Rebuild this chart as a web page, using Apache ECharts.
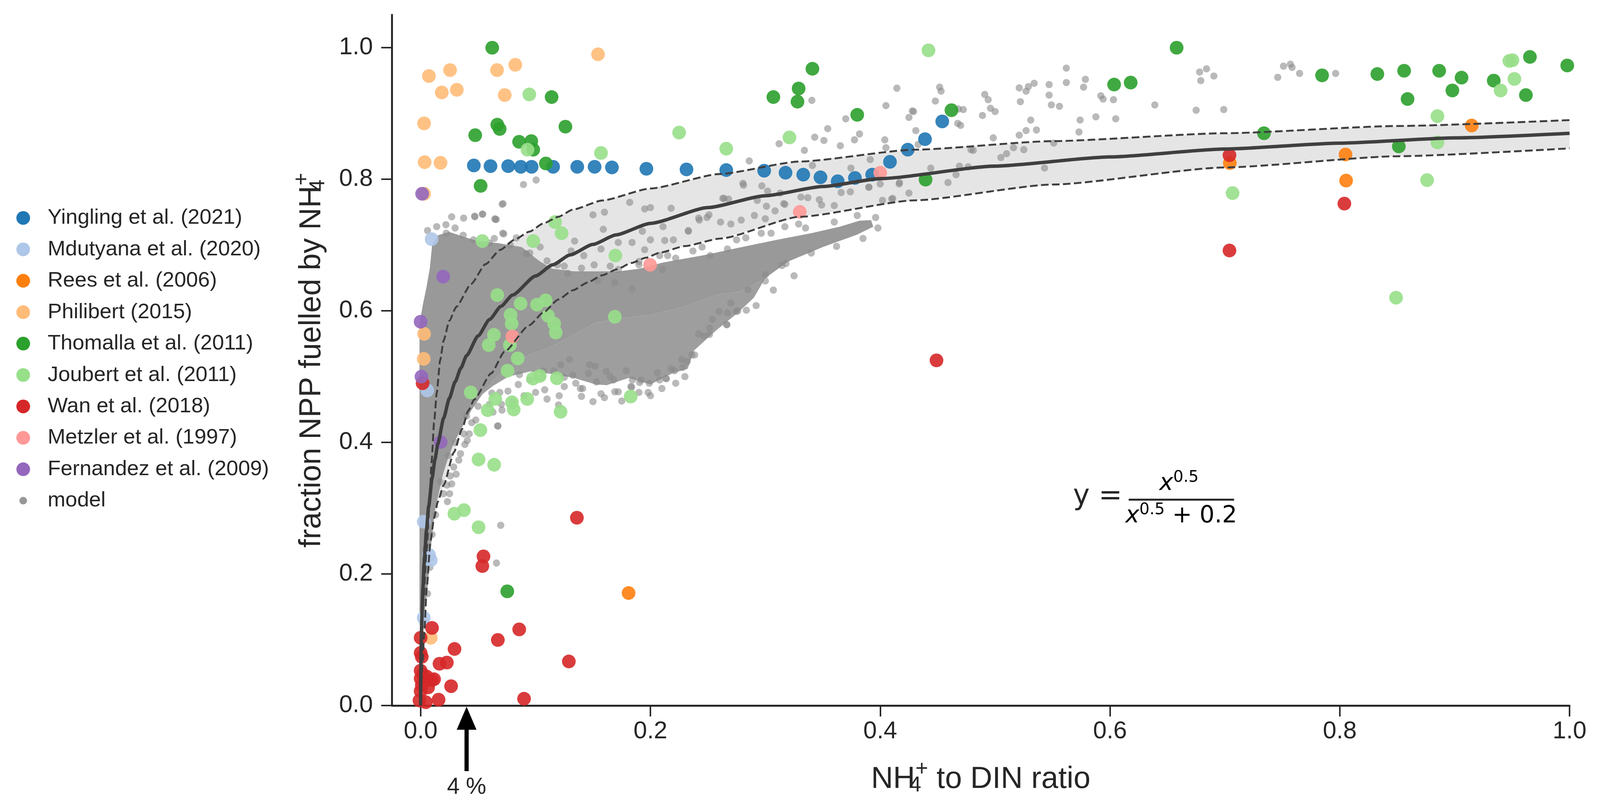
<!DOCTYPE html>
<html>
<head>
<meta charset="utf-8">
<title>fraction NPP fuelled by NH4+</title>
<script src="https://cdn.jsdelivr.net/npm/echarts@6/dist/echarts.min.js"></script>
<style>
  html, body { margin: 0; padding: 0; background: #fff; overflow: hidden; }
  #chart { width: 100vw; height: 100vh; }
</style>
</head>
<body>
<div id="chart"></div>
<script>
// axis ticks
const xTicks = [0, 0.2, 0.4, 0.6, 0.8, 1.0];
const yTicks = [0, 0.2, 0.4, 0.6, 0.8, 1.0];

// observations, [NH4+/DIN ratio, fraction NPP]
const yingling = [[0.0463,0.821],[0.0608,0.820],[0.0762,0.820],[0.0872,0.819],[0.0966,0.819],[0.1153,0.819],[0.1363,0.819],[0.1514,0.819],[0.1665,0.818],[0.1965,0.816],[0.2314,0.815],[0.266,0.814],[0.299,0.813],[0.3176,0.810],[0.333,0.807],[0.348,0.803],[0.363,0.797],[0.378,0.802],[0.393,0.807],[0.4085,0.8265],[0.424,0.845],[0.439,0.861],[0.454,0.888]];
const mdutyana = [[0.0096,0.709],[0.0058,0.479],[0.0027,0.2795],[0.0073,0.229],[0.0088,0.221],[0.0027,0.1335]];
const rees = [[0.181,0.171],[0.7043,0.8247],[0.805,0.8377],[0.8055,0.798],[0.9148,0.8817]];
const philibert = [[0.0072,0.957],[0.0256,0.966],[0.0184,0.932],[0.0315,0.936],[0.0665,0.966],[0.0824,0.974],[0.0732,0.928],[0.1544,0.990],[0.003,0.885],[0.0035,0.826],[0.0173,0.825],[0.003,0.778],[0.003,0.565],[0.0027,0.527],[0.0088,0.103]];
const thomalla = [[0.0623,1.0],[0.114,0.925],[0.0667,0.883],[0.0688,0.8765],[0.0475,0.867],[0.126,0.880],[0.0857,0.857],[0.0963,0.858],[0.098,0.845],[0.109,0.824],[0.0522,0.790],[0.341,0.968],[0.329,0.938],[0.307,0.925],[0.328,0.918],[0.380,0.898],[0.0754,0.1736],[0.4395,0.7995],[0.462,0.905],[0.6036,0.944],[0.618,0.947],[0.658,1.0],[0.734,0.870],[0.7846,0.958],[0.8327,0.960],[0.856,0.965],[0.859,0.922],[0.8865,0.965],[0.906,0.9545],[0.898,0.935],[0.934,0.950],[0.9655,0.986],[0.962,0.928],[0.998,0.973],[0.8514,0.850]];
const joubert = [[0.0946,0.929],[0.225,0.871],[0.321,0.8636],[0.266,0.8465],[0.157,0.840],[0.093,0.845],[0.0537,0.706],[0.098,0.706],[0.117,0.735],[0.1227,0.718],[0.1695,0.684],[0.169,0.591],[0.0667,0.624],[0.087,0.611],[0.1013,0.6094],[0.1088,0.616],[0.0783,0.594],[0.0792,0.5805],[0.1109,0.5925],[0.1162,0.5805],[0.1176,0.567],[0.0638,0.5635],[0.0593,0.548],[0.0777,0.548],[0.0845,0.5277],[0.0756,0.509],[0.0978,0.497],[0.1037,0.501],[0.1186,0.4975],[0.1828,0.4698],[0.0436,0.476],[0.065,0.466],[0.0795,0.461],[0.081,0.450],[0.0584,0.449],[0.0928,0.466],[0.1218,0.4466],[0.052,0.4187],[0.0504,0.374],[0.064,0.366],[0.0294,0.2916],[0.0377,0.297],[0.0504,0.271],[0.442,0.996],[0.7067,0.779],[0.885,0.896],[0.885,0.856],[0.876,0.7987],[0.849,0.620],[0.9476,0.980],[0.9503,0.981],[0.952,0.9525],[0.940,0.935]];
const wan = [[0.0017,0.490],[0.136,0.2855],[0.0547,0.2267],[0.0537,0.212],[0.0099,0.118],[0.0858,0.1157],[0.0672,0.0997],[0.0295,0.086],[0.0164,0.0635],[0.0228,0.0653],[0.129,0.067],[0.0265,0.0294],[0.090,0.0103],[0.0156,0.0089],[0.0,0.103],[0.0,0.08],[0.001,0.074],[0.0,0.053],[0.002,0.047],[0.0,0.041],[0.0053,0.044],[0.0096,0.0386],[0.0117,0.040],[0.001,0.031],[0.0065,0.0276],[0.0,0.022],[-0.001,0.0077],[0.0045,0.005],[0.449,0.5247],[0.704,0.8366],[0.704,0.6917],[0.804,0.763]];
const metzler = [[0.400,0.810],[0.330,0.7505],[0.1997,0.670],[0.0798,0.561]];
const fernandez = [[0.0013,0.778],[0.0196,0.652],[0.0,0.5835],[0.0007,0.500],[0.0174,0.4006]];

// model output: outline of the dense cloud, its looser lower lobe, and the scattered points
const modelCore = [[-0.001,0.14],[-0.001,0.58],[0.002,0.61],[0.005,0.635],[0.008,0.665],[0.01,0.7],[0.015,0.715],[0.025,0.72],[0.0385,0.712],[0.05,0.706],[0.067,0.703],[0.088,0.697],[0.1031,0.676],[0.1145,0.664],[0.1335,0.66],[0.172,0.66],[0.1906,0.664],[0.2096,0.673],[0.2286,0.679],[0.2476,0.685],[0.2796,0.697],[0.31,0.708],[0.34,0.718],[0.365,0.728],[0.382,0.737],[0.392,0.738],[0.394,0.728],[0.38,0.716],[0.35,0.697],[0.32,0.675],[0.3,0.65],[0.2796,0.63],[0.257,0.624],[0.2286,0.606],[0.2,0.594],[0.172,0.588],[0.1525,0.582],[0.1335,0.564],[0.1145,0.546],[0.0955,0.534],[0.0765,0.515],[0.063,0.494],[0.0537,0.473],[0.0442,0.449],[0.0366,0.425],[0.029,0.4],[0.0233,0.373],[0.0195,0.352],[0.0157,0.322],[0.0128,0.301],[0.01,0.26],[0.008,0.22],[0.006,0.18],[0.0045,0.155],[0.003,0.14]];
const modelLobe = [[0.3,0.65],[0.29,0.62],[0.276,0.597],[0.257,0.57],[0.2381,0.54],[0.2324,0.512],[0.219,0.505],[0.2,0.488],[0.181,0.498],[0.162,0.487],[0.1525,0.488],[0.1335,0.498],[0.1145,0.504],[0.0955,0.508],[0.0765,0.5],[0.063,0.486],[0.0537,0.473],[0.063,0.494],[0.0765,0.515],[0.0955,0.534],[0.1145,0.546],[0.1335,0.564],[0.1525,0.582],[0.172,0.588],[0.2,0.594],[0.2286,0.606],[0.257,0.624],[0.2796,0.63]];
const modelPts = [[0.4145,0.9385],[0.405,0.912],[0.3405,0.92],[0.37,0.892],[0.382,0.869],[0.3543,0.877],[0.343,0.864],[0.351,0.859],[0.3776,0.86],[0.3653,0.851],[0.312,0.854],[0.404,0.86],[0.405,0.848],[0.3913,0.83],[0.3745,0.817],[0.341,0.821],[0.334,0.844],[0.286,0.828],[0.425,0.894],[0.428,0.904],[0.1005,0.799],[0.0895,0.792],[0.071,0.762],[0.0374,0.741],[0.0472,0.743],[0.0537,0.747],[0.0646,0.74],[0.281,0.791],[0.297,0.79],[0.264,0.771],[0.268,0.77],[0.302,0.782],[0.313,0.779],[0.293,0.768],[0.301,0.759],[0.317,0.762],[0.337,0.772],[0.347,0.769],[0.36,0.76],[0.374,0.781],[0.39,0.788],[0.4,0.793],[0.4165,0.793],[0.41,0.77],[0.425,0.779],[0.182,0.765],[0.195,0.755],[0.2,0.757],[0.218,0.756],[0.16,0.75],[0.15,0.746],[0.329,0.732],[0.3085,0.752],[0.317,0.728],[0.3,0.74],[0.2905,0.745],[0.279,0.738],[0.27,0.732],[0.2492,0.742],[0.2426,0.738],[0.261,0.735],[0.233,0.721],[0.211,0.728],[0.193,0.721],[0.184,0.704],[0.2,0.708],[0.22,0.708],[0.237,0.691],[0.252,0.684],[0.267,0.694],[0.283,0.711],[0.2965,0.718],[0.172,0.704],[0.157,0.694],[0.142,0.684],[0.134,0.706],[0.131,0.691],[0.151,0.67],[0.172,0.663],[0.19,0.67],[0.208,0.684],[0.222,0.68],[0.169,0.643],[0.154,0.646],[0.184,0.633],[0.2105,0.663],[0.027,0.743],[0.0715,0.718],[0.0833,0.711],[0.092,0.687],[0.104,0.697],[0.119,0.67],[0.128,0.657],
  [0.4517,0.94],[0.453,0.934],[0.448,0.919],[0.429,0.903],[0.468,0.907],[0.4723,0.906],[0.4675,0.885],[0.47,0.882],[0.431,0.874],[0.433,0.853],[0.479,0.845],[0.481,0.844],[0.491,0.929],[0.494,0.921],[0.496,0.908],[0.5,0.903],[0.489,0.897],[0.521,0.939],[0.527,0.934],[0.529,0.941],[0.534,0.946],[0.522,0.918],[0.531,0.89],[0.527,0.874],[0.536,0.875],[0.521,0.867],[0.4984,0.863],[0.516,0.848],[0.525,0.845],[0.51,0.839],[0.505,0.833],[0.547,0.944],[0.547,0.928],[0.549,0.913],[0.556,0.911],[0.562,0.969],[0.562,0.947],[0.5786,0.952],[0.577,0.94],[0.592,0.927],[0.594,0.922],[0.603,0.921],[0.5877,0.895],[0.605,0.892],[0.574,0.89],[0.573,0.872],[0.543,0.817],[0.551,0.855],[0.639,0.913],[0.675,0.905],[0.678,0.963],[0.684,0.968],[0.679,0.95],[0.6904,0.957],[0.746,0.955],[0.751,0.972],[0.757,0.975],[0.7585,0.97],[0.765,0.961],[0.7964,0.961],[0.466,0.807],[0.459,0.795],[0.444,0.817],[0.4766,0.819],[0.469,0.82],[0.699,0.906],
  [0.292,0.608],[0.2835,0.601],[0.2747,0.599],[0.2672,0.597],[0.2663,0.579],[0.2598,0.599],[0.254,0.587],[0.2515,0.574],[0.2465,0.562],[0.242,0.565],[0.2385,0.533],[0.232,0.523],[0.228,0.514],[0.2272,0.526],[0.218,0.512],[0.214,0.497],[0.208,0.495],[0.199,0.49],[0.192,0.495],[0.1843,0.495],[0.1837,0.484],[0.169,0.477],[0.168,0.495],[0.1615,0.508],[0.157,0.474],[0.153,0.492],[0.152,0.516],[0.146,0.505],[0.141,0.482],[0.1325,0.502],[0.1295,0.526],[0.1206,0.471],[0.125,0.499],[0.116,0.509],[0.108,0.48],[0.106,0.499],[0.085,0.488],[0.076,0.478],[0.0703,0.458],[0.0673,0.425],[0.0599,0.458],[0.048,0.434],[0.0445,0.43],[0.0406,0.403],[0.0377,0.413],[0.0347,0.3828],[0.0332,0.373],[0.0288,0.3626],[0.0258,0.349],[0.0229,0.335],[0.0199,0.322],[0.0697,0.274],[0.066,0.2166],[0.325,0.6533],[0.3145,0.669],[0.3,0.6455],[0.307,0.6316],
  [0.139,0.482],[0.172,0.477],[0.179,0.509],[0.1906,0.491],[0.206,0.506],[0.2134,0.497],[0.221,0.509],[0.236,0.533],[0.2514,0.564],[0.2666,0.579],[0.276,0.6],[0.147,0.518],[0.122,0.518],[0.107,0.509],[0.086,0.503],[0.0689,0.476],[0.063,0.446],[0.0708,0.449],[0.067,0.425],[0.0423,0.413],[0.0385,0.397],[0.0309,0.3517],[0.027,0.337],[0.0252,0.322],[0.0233,0.31],
  [0.14,0.47],[0.15,0.462],[0.16,0.468],[0.175,0.463],[0.19,0.476],[0.2,0.471],[0.21,0.482],[0.222,0.49],[0.23,0.5],[0.1,0.476],[0.11,0.466],[0.12,0.457],[0.125,0.485],[0.09,0.471],[0.08,0.462],[0.183,0.485],[0.198,0.476],[0.165,0.5],[0.135,0.49],[0.095,0.495],
  [0.159,0.724],[0.195,0.693],[0.2125,0.707],[0.233,0.722],[0.242,0.741],[0.251,0.746],[0.263,0.771],[0.2805,0.794],[0.316,0.763],[0.331,0.773],[0.349,0.761],[0.366,0.78],[0.3902,0.788],[0.402,0.768],[0.4109,0.771],[0.4168,0.795],[0.0717,0.763],[0.054,0.747],[0.0658,0.739],[0.0723,0.717],[0.0223,0.718],[0.0641,0.71],[0.047,0.744],[0.0651,0.739],
  [0.006,0.722],[0.014,0.728],[0.022,0.731],[0.03,0.726],[0.037,0.715],[0.046,0.708],[0.06,0.703],[0.078,0.7],[0.095,0.688],[0.11,0.676],[0.125,0.668],[0.14,0.665],[0.165,0.668],[0.19,0.675],[0.215,0.684],[0.245,0.697],[0.275,0.708],[0.305,0.718],[0.335,0.726],[0.36,0.735],[0.38,0.745],[0.396,0.742],[0.398,0.726],[0.385,0.71],[0.362,0.698],[0.34,0.688],[0.318,0.672],[0.3,0.655],[0.285,0.632],[0.27,0.612],
  [0.004,0.13],[0.002,0.125],[0.006,0.17],[0.008,0.21],[0.01,0.26],[0.013,0.29],[0.017,0.34],[0.024,0.38],[0.03,0.4],[0.04,0.44],[0.05,0.455],[0.062,0.475]];

// fitted curve and its uncertainty band
const fitCurve = [[0,0],[0.0002,0.058],[0.0005,0.093],[0.001,0.13],[0.002,0.179],[0.003,0.215],[0.004,0.242],[0.005,0.266],[0.007,0.303],[0.01,0.346],[0.0125,0.3745],[0.015,0.398],[0.02,0.437],[0.025,0.467],[0.03,0.492],[0.035,0.513],[0.04,0.532],[0.05,0.562],[0.06,0.587],[0.07,0.607],[0.08,0.624],[0.1,0.653],[0.115,0.67],[0.13,0.685],[0.15,0.701],[0.17,0.7155],[0.2,0.733],[0.25,0.757],[0.3,0.775],[0.35,0.789],[0.4,0.801],[0.5,0.82],[0.6,0.834],[0.7,0.846],[0.8,0.855],[0.9,0.863],[1.0,0.87]];
const bandUpper = [[0,0],[0.001,0.1],[0.0025,0.16],[0.005,0.23],[0.0075,0.3],[0.0095,0.37],[0.0117,0.43],[0.014,0.475],[0.017,0.525],[0.02,0.555],[0.025,0.585],[0.031,0.606],[0.044,0.641],[0.0565,0.671],[0.0692,0.6926],[0.0819,0.7084],[0.0945,0.7203],[0.1072,0.7332],[0.1199,0.743],[0.1326,0.754],[0.158,0.7678],[0.2,0.786],[0.26,0.808],[0.33,0.827],[0.43,0.845],[0.55,0.858],[0.7,0.87],[0.85,0.881],[1.0,0.89]];
const bandLower = [[0,0],[0.0015,0.06],[0.003,0.107],[0.0053,0.178],[0.0086,0.25],[0.0117,0.285],[0.015,0.31],[0.02,0.335],[0.029,0.385],[0.036,0.42],[0.0414,0.448],[0.0466,0.465],[0.0614,0.505],[0.073,0.538],[0.0945,0.578],[0.107,0.5978],[0.1199,0.6174],[0.1326,0.6313],[0.1452,0.643],[0.158,0.654],[0.1706,0.663],[0.1833,0.6727],[0.196,0.6807],[0.2086,0.6886],[0.23,0.6985],[0.261,0.71],[0.33,0.743],[0.43,0.768],[0.55,0.792],[0.7,0.818],[0.85,0.835],[1.0,0.847]];

const arrowX = 0.04;
const eqAnchor = [0.662, 0.313];

const studies = [
  ['Yingling et al. (2021)', '#1f77b4', yingling],
  ['Mdutyana et al. (2020)', '#aec7e8', mdutyana],
  ['Rees et al. (2006)', '#ff7f0e', rees],
  ['Philibert (2015)', '#ffbb78', philibert],
  ['Thomalla et al. (2011)', '#2ca02c', thomalla],
  ['Joubert et al. (2011)', '#98df8a', joubert],
  ['Wan et al. (2018)', '#d62728', wan],
  ['Metzler et al. (1997)', '#ff9896', metzler],
  ['Fernandez et al. (2009)', '#9467bd', fernandez]
];

const ink = '#262626';
const sans = '"Liberation Sans", Arial, sans-serif';
const mathFont = '"DejaVu Sans", sans-serif';

// the layout is measured on a 4205 x 2072 page; scale it to the real viewport
const W = window.innerWidth || 4205;
const H = window.innerHeight || 2072;
const kx = W / 4205, ky = H / 2072, kf = Math.min(kx, ky);

function polygonSeries(name, pts, fill, opacity) {
  return {
    type: 'custom',
    name: name,
    silent: true,
    clip: true,
    data: [[0, 0]],
    renderItem: function (params, api) {
      return {
        type: 'polygon',
        shape: { points: pts.map(p => api.coord(p)) },
        style: { fill: fill, opacity: opacity }
      };
    }
  };
}

const chart = echarts.init(document.getElementById('chart'), null, { width: W, height: H });

const dash = [20 * kf, 9 * kf];
const series = [
  polygonSeries('band', bandUpper.concat(bandLower.slice().reverse()), '#e5e5e5', 1),
  polygonSeries('cloud', modelCore, '#999999', 1),
  polygonSeries('lobe', modelLobe, '#999999', 0.95),
  {
    type: 'scatter', name: 'model', data: modelPts, symbolSize: 19 * kf,
    itemStyle: { color: '#8a8a8a', opacity: 0.6 }, silent: true
  },
  {
    type: 'line', name: 'upper', data: bandUpper, showSymbol: false, silent: true,
    smooth: 0.2, smoothMonotone: 'x',
    lineStyle: { color: '#3f3f3f', width: 5 * kf, type: dash }
  },
  {
    type: 'line', name: 'lower', data: bandLower, showSymbol: false, silent: true,
    smooth: 0.2, smoothMonotone: 'x',
    lineStyle: { color: '#3f3f3f', width: 5 * kf, type: dash }
  },
  {
    type: 'line', name: 'fit', data: fitCurve, showSymbol: false, silent: true,
    smooth: 0.2, smoothMonotone: 'x',
    lineStyle: { color: '#3f3f3f', width: 9 * kf }
  }
];
studies.forEach(s => {
  series.push({
    type: 'scatter', name: s[0], data: s[2], symbolSize: 36 * kf,
    itemStyle: { color: s[1], opacity: 0.9 }
  });
});

const legendData = studies.map(s => ({ name: s[0], itemStyle: { opacity: 1 } }));
legendData.push({ name: 'model', itemStyle: { color: '#979797', opacity: 1, borderColor: '#ffffff', borderWidth: 16 * kf } });

const subRich = {
  a: { fontSize: 80 * kf, fontFamily: sans, color: ink },
  b: { fontSize: 57 * kf, fontFamily: sans, color: ink, padding: [32 * kf, 0, 0, 0], width: 1 },
  c: { fontSize: 57 * kf, fontFamily: sans, color: ink, padding: [0, 0, 52 * kf, 0] }
};

const legendFont = 56 * kf;
const option = {
  animation: false,
  backgroundColor: '#ffffff',
  grid: { left: 1030 * kx, right: 80 * kx, top: 38 * ky, bottom: 265 * ky, containLabel: false, outerBoundsMode: 'none' },
  legend: {
    orient: 'vertical', left: 35 * kx, top: 558 * ky - legendFont / 2, padding: 0,
    itemWidth: 36 * kf, itemHeight: 36 * kf, itemGap: 80 * ky - legendFont,
    icon: 'circle', selectedMode: false,
    textStyle: { fontSize: legendFont, fontFamily: sans, color: ink, lineHeight: 36 * kf, padding: [0, 0, 0, 41 * kx] },
    data: legendData
  },
  xAxis: {
    type: 'value', min: -0.025, max: 1.0,
    name: '{a|NH}{b|4}{c|+}{a| to DIN ratio}',
    nameLocation: 'middle', nameGap: 136 * ky,
    nameTextStyle: { rich: subRich },
    axisLine: { show: true, onZero: false, lineStyle: { color: ink, width: 5 * kf } },
    axisTick: { show: true, length: 28 * ky, customValues: xTicks, lineStyle: { color: ink, width: 4 * kf } },
    axisLabel: { customValues: xTicks, formatter: v => v.toFixed(1), fontSize: 64 * kf, fontFamily: sans, color: ink, margin: 36 * ky },
    splitLine: { show: false }
  },
  yAxis: {
    type: 'value', min: 0, max: 1.05,
    name: '{a|fraction NPP fuelled by NH}{b|4}{c|+}',
    nameLocation: 'middle', nameGap: 155 * kx, nameRotate: 90,
    nameTextStyle: { rich: subRich },
    axisLine: { show: true, onZero: false, lineStyle: { color: ink, width: 5 * kf } },
    axisTick: { show: true, length: 28 * kx, customValues: yTicks, lineStyle: { color: ink, width: 4 * kf } },
    axisLabel: { customValues: yTicks, formatter: v => v.toFixed(1), fontSize: 64 * kf, fontFamily: sans, color: ink, margin: 50 * kx },
    splitLine: { show: false }
  },
  series: series
};

chart.setOption(option);

// annotations placed through the axes
const ar = chart.convertToPixel({ gridIndex: 0 }, [arrowX, 0]);
const eq = chart.convertToPixel({ gridIndex: 0 }, eqAnchor);
const mathRich = {
  i: { fontSize: 62 * kf, fontFamily: mathFont, fontStyle: 'italic', color: ink },
  s: { fontSize: 42 * kf, fontFamily: mathFont, color: ink, padding: [0, 0, 34 * kf, 0] },
  n: { fontSize: 62 * kf, fontFamily: mathFont, color: ink }
};

chart.setOption({
  graphic: [
    {
      type: 'polygon', silent: true, z: 100,
      shape: { points: [[ar[0], ar[1] + 3 * ky], [ar[0] - 26 * kx, ar[1] + 62 * ky], [ar[0] + 26 * kx, ar[1] + 62 * ky]] },
      style: { fill: '#000' }
    },
    {
      type: 'rect', silent: true, z: 100,
      shape: { x: ar[0] - 5.5 * kx, y: ar[1] + 58 * ky, width: 11 * kx, height: 110 * ky },
      style: { fill: '#000' }
    },
    {
      type: 'text', silent: true, z: 100, x: ar[0], y: ar[1] + 210 * ky,
      style: { text: '4 %', fontSize: 60 * kf, fontFamily: sans, fill: ink, align: 'center', verticalAlign: 'middle', textAlign: 'center', textVerticalAlign: 'middle' }
    },
    {
      type: 'text', silent: true, z: 100, x: eq[0] - 155 * kx, y: eq[1] - 6 * ky,
      style: { text: 'y =', fontSize: 74 * kf, fontFamily: mathFont, fill: ink, align: 'right', verticalAlign: 'middle', textAlign: 'right', textVerticalAlign: 'middle' }
    },
    {
      type: 'rect', silent: true, z: 100,
      shape: { x: eq[0] - 138 * kx, y: eq[1] - 2.5 * ky, width: 277 * kx, height: 5 * ky },
      style: { fill: ink }
    },
    {
      type: 'text', silent: true, z: 100, x: eq[0] - 6 * kx, y: eq[1] - 40 * ky,
      style: { text: '{i|x}{s|0.5}', rich: mathRich, align: 'center', verticalAlign: 'middle', textAlign: 'center', textVerticalAlign: 'middle' }
    },
    {
      type: 'text', silent: true, z: 100, x: eq[0], y: eq[1] + 43 * ky,
      style: { text: '{i|x}{s|0.5}{n| + 0.2}', rich: mathRich, align: 'center', verticalAlign: 'middle', textAlign: 'center', textVerticalAlign: 'middle' }
    }
  ]
});
</script>
</body>
</html>
